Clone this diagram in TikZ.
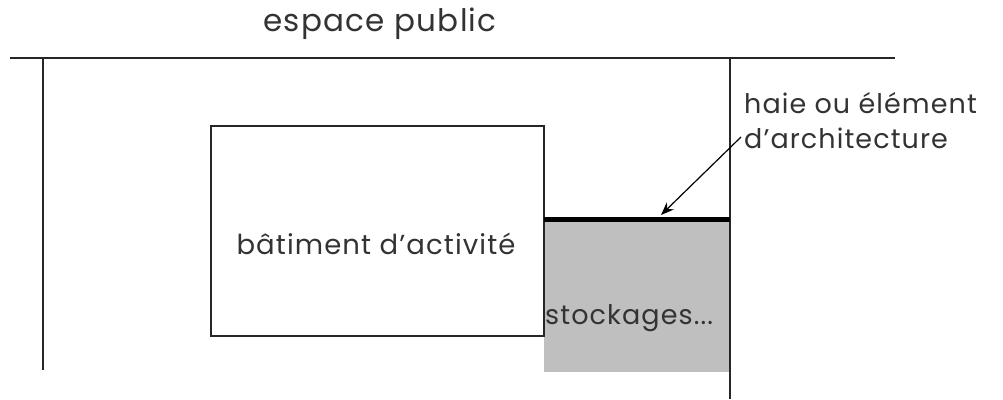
\documentclass[tikz,border=0pt]{standalone}
\usepackage{fontspec}
\setmainfont{Poppins}[LetterSpace=4]
\usetikzlibrary{arrows.meta}
\newcommand{\sq}{\char"0027\relax}
\tikzset{
  thin line/.style={line width=1.3pt, draw=black!85},
  lbl/.style={inner sep=0pt, font=\fontsize{27}{35}\selectfont, text=black!80},
}
\begin{document}
\begin{tikzpicture}[x=1pt,y=-1pt]
\useasboundingbox (0,0) rectangle (1003,399);
% coordinates
\coordinate (hl) at (10,58);
\coordinate (hr) at (895,58);
\coordinate (lt) at (43,58);
\coordinate (lb) at (43,370);
\coordinate (rt) at (730,58);
\coordinate (rb) at (730,399);
% storage area
\fill[black!25] (544,220) rectangle (729,372);
\node[lbl, anchor=west] (stock) at (545,318) {stockages...};
% building
\draw[thin line] (211,126) rectangle (544,336);
\node[lbl, font=\fontsize{27.5}{35}\selectfont] (bat) at (376,244) {bâtiment d\sq activité};
% boundary lines
\draw[thin line] (hl) -- (hr);
\draw[thin line] (lt) -- (lb);
\draw[thin line] (rt) -- (rb);
% hedge
\coordinate (h1) at (544,219);
\coordinate (h2) at (730,219);
\draw[line width=5pt] (h1) -- (h2);
% labels
\node[lbl, font=\fontsize{31}{35}\selectfont] (pub) at (380,24) {espace public};
\node[lbl, anchor=west, align=left] (haie) at (744,121) {haie ou élément\\d\sq architecture};
\coordinate (tip) at (661,215);
\draw[line width=1.2pt, -{Stealth[length=13pt,width=10pt]}] (741,137) -- (tip);
\end{tikzpicture}
\end{document}
